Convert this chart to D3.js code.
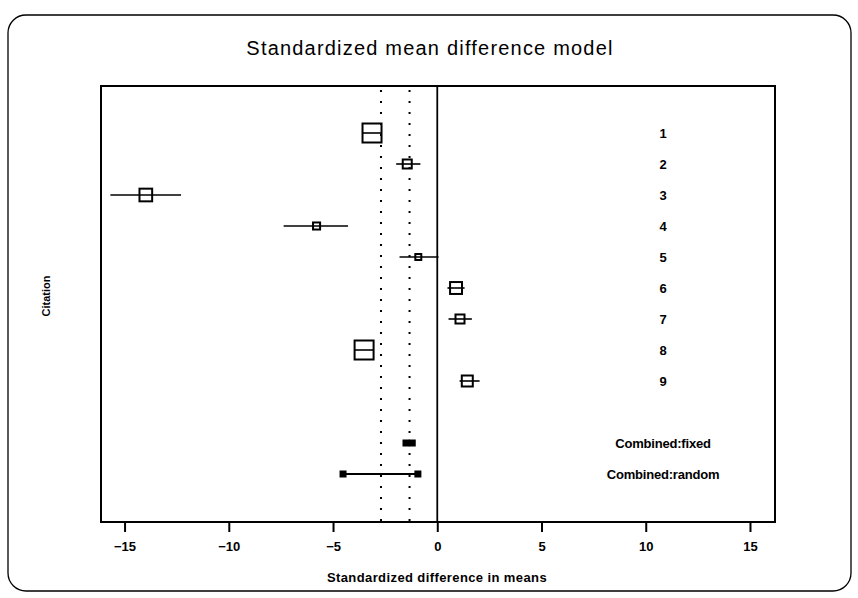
<!DOCTYPE html>
<html>
<head>
<meta charset="utf-8">
<script src="https://cdn.jsdelivr.net/npm/d3@7"></script>
<style>
  body { margin: 0; background: #fff; }
  text { font-family: "Liberation Sans", Arial, sans-serif; fill: #000; }
</style>
</head>
<body>
<div id="chart"></div>
<script>
// study rows
const studies = ['1', '2', '3', '4', '5', '6', '7', '8', '9'];
const estimates = [-3.13, -1.44, -13.98, -5.79, -0.91, 0.90, 1.09, -3.51, 1.44];
const lowerCI = [-3.58, -1.97, -15.68, -7.37, -1.81, 0.49, 0.54, -3.96, 1.07];
const upperCI = [-2.68, -0.81, -12.29, -4.28, 0.06, 1.31, 1.66, -3.06, 2.03];
const weights = [25.4, 5.7, 11.3, 3.5, 2.5, 10.0, 5.7, 25.4, 8.5];

// combined rows
const combinedLabels = ['Combined:fixed', 'Combined:random'];
const combinedEst = [-1.33, -2.70];
const combinedLower = [-1.50, -4.52];
const combinedUpper = [-1.20, -0.93];

const xTicks = [-15, -10, -5, 0, 5, 10, 15];

const W = 858, H = 598;
const margin = {top: 86, right: 83, bottom: 76, left: 101};
const width = W - margin.left - margin.right;
const height = H - margin.top - margin.bottom;

const svg = d3.select('#chart')
    .append('svg')
    .attr('width', W)
    .attr('height', H);

// rounded outer frame
svg.append('rect')
    .attr('x', 8).attr('y', 15)
    .attr('width', 843).attr('height', 576)
    .attr('rx', 18)
    .attr('fill', 'none')
    .attr('stroke', '#000')
    .attr('stroke-width', 1.3);

svg.append('text')
    .attr('x', 430).attr('y', 55)
    .attr('text-anchor', 'middle')
    .style('font-size', '20px')
    .style('letter-spacing', '1.2px')
    .text('Standardized mean difference model');

const g = svg.append('g')
    .attr('transform', `translate(${margin.left},${margin.top})`);

const x = d3.scaleLinear()
    .domain([-16.13, 16.2])
    .range([0, width]);

const rowKeys = studies.concat(['gap'], combinedLabels);
const y = d3.scalePoint()
    .domain(rowKeys)
    .range([47, 388]);

const size = d3.scaleSqrt()
    .domain([0, 25.4])
    .range([0, 19]);

// axis
const xAxis = d3.axisBottom(x)
    .tickValues(xTicks)
    .tickSize(10)
    .tickPadding(10)
    .tickFormat(d3.format('d'));

const ax = g.append('g')
    .attr('transform', `translate(0,${height})`)
    .call(xAxis);
ax.select('.domain').remove();
ax.selectAll('.tick line').attr('stroke-width', 2);
ax.selectAll('.tick text')
    .style('font-size', '13px')
    .style('font-weight', 'bold');

// pooled estimates as dotted lines
g.selectAll('.pooled')
    .data(combinedEst)
    .enter().append('line')
    .attr('class', 'pooled')
    .attr('x1', d => x(d)).attr('x2', d => x(d))
    .attr('y1', 4).attr('y2', height)
    .attr('stroke', '#000')
    .attr('stroke-width', 2)
    .attr('stroke-dasharray', '2,9');

// no-effect line
g.append('line')
    .attr('x1', x(0)).attr('x2', x(0))
    .attr('y1', 0).attr('y2', height)
    .attr('stroke', '#000')
    .attr('stroke-width', 1.8);

// study CI lines and boxes
const rows = studies.map((s, i) => ({
    key: s, est: estimates[i], lo: lowerCI[i], hi: upperCI[i], w: weights[i]
}));

g.selectAll('.ci')
    .data(rows)
    .enter().append('line')
    .attr('class', 'ci')
    .attr('x1', d => x(d.lo)).attr('x2', d => x(d.hi))
    .attr('y1', d => y(d.key)).attr('y2', d => y(d.key))
    .attr('stroke', '#000')
    .attr('stroke-width', 1.6);

g.selectAll('.box')
    .data(rows)
    .enter().append('rect')
    .attr('class', 'box')
    .attr('x', d => x(d.est) - size(d.w) / 2)
    .attr('y', d => y(d.key) - size(d.w) / 2)
    .attr('width', d => size(d.w))
    .attr('height', d => size(d.w))
    .attr('fill', 'none')
    .attr('stroke', '#000')
    .attr('stroke-width', 2);

// combined rows: line with filled ends
const comb = combinedLabels.map((c, i) => ({
    key: c, lo: combinedLower[i], hi: combinedUpper[i]
}));

g.selectAll('.cline')
    .data(comb)
    .enter().append('line')
    .attr('class', 'cline')
    .attr('x1', d => x(d.lo)).attr('x2', d => x(d.hi))
    .attr('y1', d => y(d.key)).attr('y2', d => y(d.key))
    .attr('stroke', '#000')
    .attr('stroke-width', 1.8);

comb.forEach(d => {
    g.selectAll(null)
        .data([d.lo, d.hi])
        .enter().append('rect')
        .attr('x', v => x(v) - 3.5)
        .attr('y', y(d.key) - 3.5)
        .attr('width', 7).attr('height', 7)
        .attr('fill', '#000');
});

// row labels
g.selectAll('.lab')
    .data(rowKeys.filter(k => k !== 'gap'))
    .enter().append('text')
    .attr('class', 'lab')
    .attr('x', 562)
    .attr('y', d => y(d) + 5)
    .attr('text-anchor', 'middle')
    .style('font-size', '13px')
    .style('font-weight', 'bold')
    .style('letter-spacing', '-0.2px')
    .text(d => d);

// plot frame
g.append('rect')
    .attr('width', width).attr('height', height)
    .attr('fill', 'none')
    .attr('stroke', '#000')
    .attr('stroke-width', 2);

// axis titles
svg.append('text')
    .attr('x', 437).attr('y', 582)
    .attr('text-anchor', 'middle')
    .style('font-size', '13px')
    .style('font-weight', 'bold')
    .style('letter-spacing', '0.4px')
    .text('Standardized difference in means');

svg.append('text')
    .attr('transform', 'translate(50,296) rotate(-90)')
    .attr('text-anchor', 'middle')
    .style('font-size', '11px')
    .style('font-weight', 'bold')
    .text('Citation');
</script>
</body>
</html>
